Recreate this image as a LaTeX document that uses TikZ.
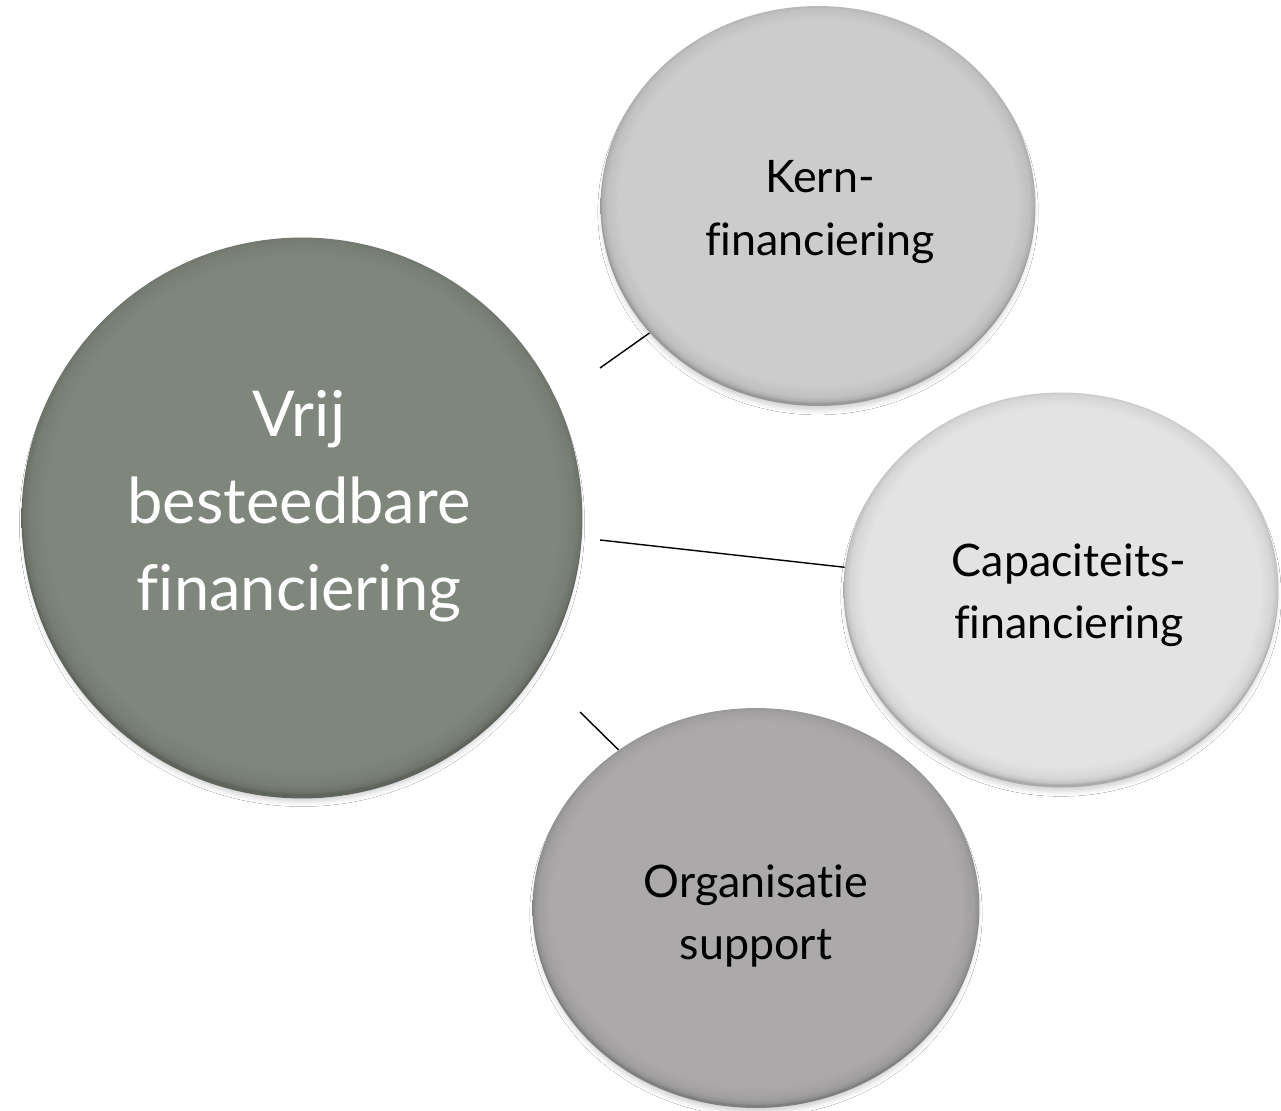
\documentclass[tikz,border=0pt]{standalone}
\usepackage{fontspec}
\setmainfont{Lato}[Ligatures=NoCommon]
\usepackage{tikz}
\usetikzlibrary{positioning,%
  shapes.geometric,%
  shadows,%
  shadows.blur
}

\definecolor{bigfill}{RGB}{127,134,123}
\definecolor{kernfill}{RGB}{205,204,205}
\definecolor{capfill}{RGB}{227,227,227}
\definecolor{orgfill}{RGB}{171,169,169}
\colorlet{rimcolor}{bigfill}

% rand van de bollen
\pgfdeclareradialshading[rimcolor]{rim}{\pgfpoint{0bp}{0.8bp}}{%
  color(0bp)=(rimcolor); color(22.8bp)=(rimcolor); color(24.3bp)=(rimcolor!94!black);
  color(24.9bp)=(rimcolor!85!black); color(25bp)=(rimcolor!75!black); color(50bp)=(rimcolor!75!black)}

\begin{document}
\begin{tikzpicture}
    [
        x=0.02cm, y=-0.02cm,
        bubble/.style={ellipse, inner sep=0pt, /utils/exec={\colorlet{rimcolor}{#1}},
            shading=rim, blur shadow={shadow xshift=0pt, shadow yshift=-.12cm,
            shadow blur radius=.1cm, shadow scale=.99, shadow opacity=18}},
        bigtext/.style={align=center, text=white, font=\fontsize{36}{49.5}\selectfont},
        smalltext/.style={align=center, text=black, font=\fontsize{25.5}{35.5}\selectfont},
        link/.style={line width=.8pt, black}
    ]

    % achtergrond
    \useasboundingbox[fill=white] (0,0) rectangle (1281,1111);

    \node[bubble=bigfill, circle, minimum size=11.22cm] (vrij) at (302,518) {};
    \node[bubble=kernfill, minimum width=8.7cm, minimum height=8cm] (kern) at (818,206) {};
    \node[bubble=capfill, minimum width=8.7cm, minimum height=7.9cm] (cap) at (1061,590) {};
    \node[bubble=orgfill, minimum width=8.94cm, minimum height=8cm] (org) at (756,908) {};

    \node[bigtext] (vrijtxt) at (299,506) {Vrij\\besteedbare\\financiering};
    \node[smalltext] (kerntxt) at (820,212) {Kern-\\financiering};
    \node[smalltext] (captxt) at (1069,595) {Capaciteits-\\financiering};
    \node[smalltext] (orgtxt) at (756,916) {Organisatie\\support};

    \coordinate (k0) at (600,368);
    \coordinate (c0) at (600,540);
    \coordinate (o0) at (580,712);

    \draw[link] (k0) -- (kern.217);
    \draw[link] (c0) -- (cap.174);
    \draw[link] (o0) -- (org.131);
\end{tikzpicture}
\end{document}
